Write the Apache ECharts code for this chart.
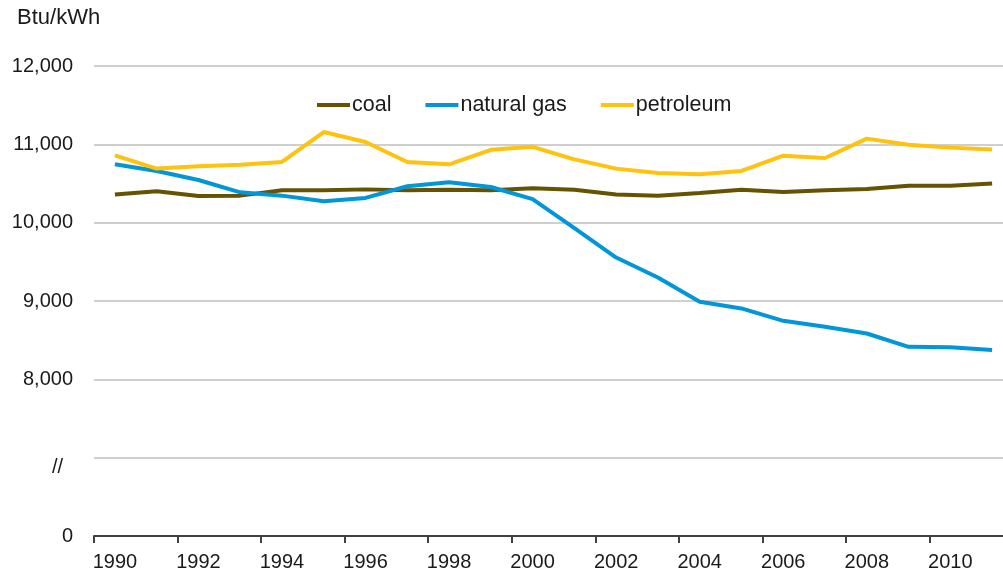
<!DOCTYPE html>
<html>
<head>
<meta charset="utf-8">
<script src="https://cdn.jsdelivr.net/npm/echarts@6/dist/echarts.min.js"></script>
<style>
  html, body { margin: 0; padding: 0; background: #fff; }
  #main { width: 1003px; height: 578px; }
</style>
</head>
<body>
<div id="main"></div>
<script>
var years = ['1990','1991','1992','1993','1994','1995','1996','1997','1998','1999','2000',
             '2001','2002','2003','2004','2005','2006','2007','2008','2009','2010','2011'];
var coal = [10360, 10400, 10340, 10345, 10415, 10415, 10425, 10415, 10420, 10415, 10440,
            10420, 10360, 10345, 10380, 10420, 10390, 10415, 10430, 10470, 10470, 10500];
var gas = [10745, 10660, 10545, 10387, 10345, 10273, 10316, 10465, 10515, 10455, 10300,
           9930, 9555, 9300, 8990, 8905, 8747, 8670, 8585, 8415, 8410, 8375];
var petroleum = [10860, 10690, 10720, 10740, 10775, 11157, 11030, 10775, 10745, 10930, 10968,
                 10808, 10690, 10635, 10617, 10660, 10855, 10825, 11073, 10996, 10958, 10935];
// the axis is broken: bottom tick stands for 0, the one above it is the "//" gap
var yLabels = {6000: '0', 7000: '{brk|//}', 8000: '8,000', 9000: '9,000',
               10000: '10,000', 11000: '11,000', 12000: '12,000'};

var font = 'Liberation Sans, Arial, sans-serif';
var myChart = echarts.init(document.getElementById('main'));

option = {
    animation: false,
    title: {
        text: 'Btu/kWh',
        left: 12,
        top: 2,
        textStyle: { fontFamily: font, fontSize: 22, fontWeight: 'normal', color: '#1a1a1a' }
    },
    legend: {
        data: ['coal', 'natural gas', 'petroleum'],
        left: 317,
        top: 94,
        padding: 0,
        icon: 'rect',
        itemWidth: 33,
        itemHeight: 4,
        itemGap: 34,
        textStyle: { fontFamily: font, fontSize: 21.5, color: '#1a1a1a', padding: [0, 0, 0, -3] }
    },
    grid: {
        left: 94,
        right: -10,
        top: 66,
        bottom: 42,
        outerBoundsMode: 'none'
    },
    xAxis: {
        type: 'category',
        data: years,
        boundaryGap: true,
        axisLine: { lineStyle: { color: '#404040', width: 2 } },
        axisTick: { show: true, interval: 1, length: 7, lineStyle: { color: '#404040', width: 2 } },
        axisLabel: {
            interval: 1,
            margin: 16,
            fontFamily: font,
            fontSize: 20,
            color: '#1a1a1a'
        }
    },
    yAxis: {
        type: 'value',
        min: 6000,
        max: 12000,
        interval: 1000,
        axisLine: { show: false },
        axisTick: { show: false },
        splitLine: { lineStyle: { color: '#bfbfbf', width: 1.5 } },
        axisLabel: {
            margin: 21,
            fontFamily: font,
            fontSize: 20,
            color: '#1a1a1a',
            formatter: function (v) { return yLabels[v] || ''; },
            rich: {
                brk: { fontFamily: font, fontSize: 20, color: '#1a1a1a', padding: [20, 10, 0, 0] }
            }
        }
    },
    series: [
        {
            name: 'coal',
            type: 'line',
            data: coal,
            symbol: 'none',
            color: '#665200',
            lineStyle: { width: 4 }
        },
        {
            name: 'natural gas',
            type: 'line',
            data: gas,
            symbol: 'none',
            color: '#0096d7',
            lineStyle: { width: 4 }
        },
        {
            name: 'petroleum',
            type: 'line',
            data: petroleum,
            symbol: 'none',
            color: '#ffc20e',
            lineStyle: { width: 4 }
        }
    ]
};
myChart.setOption(option);
</script>
</body>
</html>
